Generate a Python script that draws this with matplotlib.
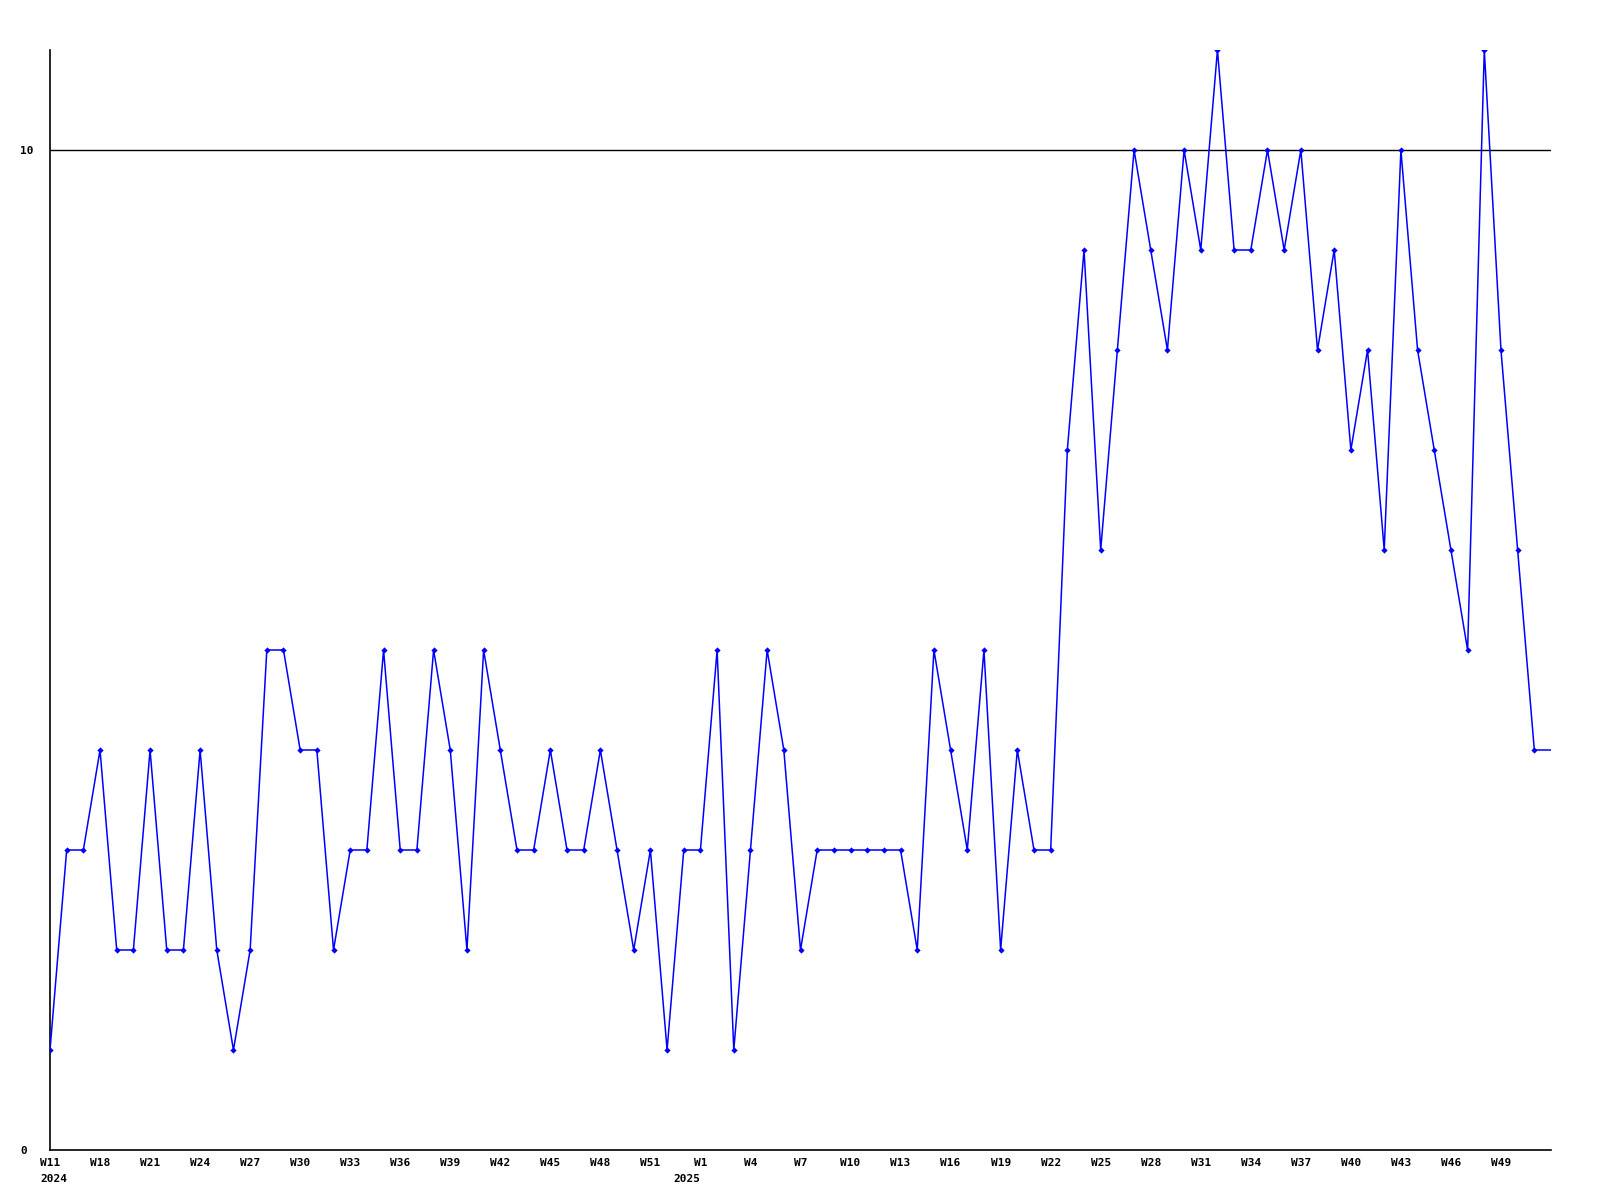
import matplotlib
matplotlib.use("Agg")
import matplotlib.pyplot as plt

values = [1, 3, 3, 4, 2, 2, 4, 2, 2, 4,
          2, 1, 2, 5, 5, 4, 4, 2, 3, 3,
          5, 3, 3, 5, 4, 2, 5, 4, 3, 3,
          4, 3, 3, 4, 3, 2, 3, 1, 3, 3,
          5, 1, 3, 5, 4, 2, 3, 3, 3, 3,
          3, 3, 2, 5, 4, 3, 5, 2, 4, 3,
          3, 7, 9, 6, 8, 10, 9, 8, 10, 9,
          11, 9, 9, 10, 9, 10, 8, 9, 7, 8,
          6, 10, 8, 7, 6, 5, 11, 8, 6, 4]

tick_labels = ["W11", "W18", "W21", "W24", "W27", "W30", "W33", "W36", "W39", "W42",
               "W45", "W48", "W51", "W1", "W4", "W7", "W10", "W13", "W16", "W19",
               "W22", "W25", "W28", "W31", "W34", "W37", "W40", "W43", "W46", "W49"]
year_labels = ["2024", "2025"]

mono = "DejaVu Sans Mono"
fig = plt.figure(figsize=(16, 12), dpi=100)
ax = fig.add_axes([50/1600, 1 - 1150/1200, (1551-50)/1600, 1100/1200])

n = len(values)
xs = list(range(n))
ax.plot(xs + [n], values + [values[-1]], color="#0000ff", lw=1.1, zorder=3)
ax.plot(xs, values, linestyle="none", marker="D", markersize=3.2,
        color="#0000ff", markeredgewidth=0, zorder=4)

ax.set_xlim(0, n)
ax.set_ylim(0, 11)
ax.axhline(10, color="black", lw=1, zorder=2)

for s in ["top", "right"]:
    ax.spines[s].set_visible(False)
for s in ["left", "bottom"]:
    ax.spines[s].set_color("black")
    ax.spines[s].set_linewidth(1.2)

ax.set_xticks([3 * i for i in range(len(tick_labels))])
ax.set_xticklabels(tick_labels, fontfamily=mono, fontweight="bold", fontsize=8)
ax.tick_params(axis="x", length=0, pad=6)

ax.set_yticks([0, 10])
ax.set_yticklabels(["0", "10"], fontfamily=mono, fontweight="bold", fontsize=8,
                   ha="left")
ax.tick_params(axis="y", length=0, pad=21.5)

# year labels under first tick and under W1
ax.text(-0.6, -0.022, year_labels[0], transform=ax.get_xaxis_transform(),
        ha="left", va="top", fontfamily=mono, fontweight="bold", fontsize=8)
ax.text(39, -0.022, year_labels[1], transform=ax.get_xaxis_transform(),
        ha="right", va="top", fontfamily=mono, fontweight="bold", fontsize=8)

fig.savefig("out.png", dpi=100, facecolor="white")
